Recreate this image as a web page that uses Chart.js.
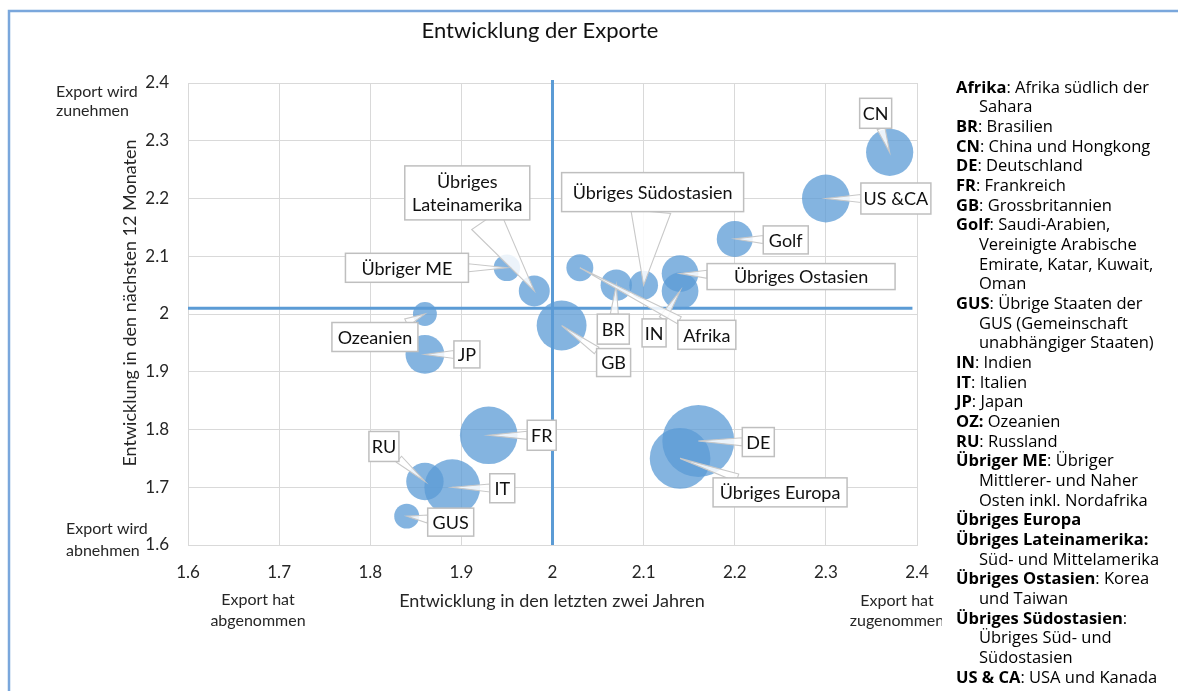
<!DOCTYPE html>
<html>
<head>
<meta charset="utf-8">
<script src="https://cdn.jsdelivr.net/npm/chart.js@4/dist/chart.umd.min.js"></script>
<style>
  body { margin: 0; background: #fff; }
</style>
</head>
<body>
<canvas id="bubbleChart" width="1178" height="691"></canvas>
<script>
// Regionen und Werte
const regions = ['CN', 'US &CA', 'Golf', 'Übriges Ostasien', 'IN', 'Übriges Südostasien', 'BR', 'Afrika', 'GB',
    'Übriges Lateinamerika', 'Übriger ME', 'Ozeanien', 'JP', 'FR', 'RU', 'IT', 'GUS', 'DE', 'Übriges Europa'];
const lastTwoYears = [2.37, 2.30, 2.20, 2.14, 2.14, 2.10, 2.07, 2.03, 2.01, 1.98, 1.95, 1.86, 1.86, 1.93, 1.86, 1.89, 1.84, 2.16, 2.14];
const nextTwelveMonths = [2.28, 2.20, 2.13, 2.07, 2.04, 2.05, 2.05, 2.08, 1.98, 2.04, 2.08, 2.00, 1.93, 1.79, 1.71, 1.70, 1.65, 1.78, 1.75];
const exportVolume = [43, 44, 25, 26, 26, 16, 19, 14, 48, 18.5, 13.6, 11, 29, 64, 27, 60, 12, 100, 71];
const axisTicks = [1.6, 1.7, 1.8, 1.9, 2.0, 2.1, 2.2, 2.3, 2.4];
const crossX = 2.0;
const crossY = 2.01;

// Label-Kästchen: Versatz zum Blasenmittelpunkt, Größe, Breite der Spitze
const labelLayout = {
    'CN': { dx: -14, dy: -39, w: 32, h: 30 },
    'US &CA': { dx: 70, dy: 0, w: 70, h: 31 },
    'Golf': { dx: 51, dy: 1, w: 45, h: 28 },
    'Übriges Ostasien': { dx: 121, dy: 3, w: 188, h: 26 },
    'IN': { dx: -26, dy: 42, w: 24, h: 28 },
    'Übriges Südostasien': { dx: 9, dy: -93, w: 182, h: 39, base: 40 },
    'BR': { dx: -3, dy: 44, w: 32, h: 30 },
    'Afrika': { dx: 127, dy: 67, w: 58, h: 29 },
    'GB': { dx: 52, dy: 37, w: 34, h: 28 },
    'Übriges Lateinamerika': { dx: -67, dy: -98, w: 125, h: 54, base: 34, lines: ['Übriges', 'Lateinamerika'] },
    'Übriger ME': { dx: -100, dy: 0, w: 123, h: 29 },
    'Ozeanien': { dx: -50, dy: 23, w: 86, h: 29 },
    'JP': { dx: 42, dy: 0, w: 26, h: 27 },
    'FR': { dx: 53, dy: 0, w: 29, h: 30 },
    'RU': { dx: -41, dy: -35, w: 30, h: 30 },
    'IT': { dx: 50, dy: 1, w: 25, h: 29 },
    'GUS': { dx: 44, dy: 6, w: 46, h: 28 },
    'DE': { dx: 60, dy: 1, w: 32, h: 29 },
    'Übriges Europa': { dx: 100, dy: 34, w: 134, h: 29 }
};

const legendEntries = [
    ['Afrika', ': Afrika südlich der', ['Sahara']],
    ['BR', ': Brasilien'],
    ['CN', ': China und Hongkong'],
    ['DE', ': Deutschland'],
    ['FR', ': Frankreich'],
    ['GB', ': Grossbritannien'],
    ['Golf', ': Saudi-Arabien,', ['Vereinigte Arabische', 'Emirate, Katar, Kuwait,', 'Oman']],
    ['GUS', ': Übrige Staaten der', ['GUS (Gemeinschaft', 'unabhängiger Staaten)']],
    ['IN', ': Indien'],
    ['IT', ': Italien'],
    ['JP', ': Japan'],
    ['OZ:', ' Ozeanien'],
    ['RU', ': Russland'],
    ['Übriger ME', ': Übriger', ['Mittlerer- und Naher', 'Osten inkl. Nordafrika']],
    ['Übriges Europa', ''],
    ['Übriges Lateinamerika:', '', ['Süd- und Mittelamerika']],
    ['Übriges Ostasien', ': Korea', ['und Taiwan']],
    ['Übriges Südostasien', ':', ['Übriges Süd- und', 'Südostasien']],
    ['US & CA', ': USA und Kanada']
];

const chartFont = 'Lato, "Open Sans", sans-serif';
const legendFont = '"Open Sans", sans-serif';
const blue = '#5b9bd5';

const bubbles = regions.map((name, i) => ({
    x: lastTwoYears[i],
    y: nextTwelveMonths[i],
    r: 36 * Math.sqrt(exportVolume[i] / 100),
    name: name
}));

const calloutPlugin = {
    id: 'callouts',
    afterDatasetsDraw(chart) {
        const ctx = chart.ctx;
        const meta = chart.getDatasetMeta(0);
        ctx.save();
        meta.data.forEach((pt, i) => {
            const name = regions[i];
            const L = labelLayout[name];
            const cx = pt.x + L.dx, cy = pt.y + L.dy;
            const hw = L.w / 2, hh = L.h / 2;
            const vx = pt.x - cx, vy = pt.y - cy;
            const len = Math.hypot(vx, vy);
            const t = Math.min(hw / (Math.abs(vx) || 1e-6), hh / (Math.abs(vy) || 1e-6));
            if (t < 1) {
                const ex = cx + vx * t, ey = cy + vy * t;
                const px = -vy / len, py = vx / len;
                const b = (L.base || 8) / 2;
                ctx.beginPath();
                ctx.moveTo(ex + px * b, ey + py * b);
                ctx.lineTo(pt.x, pt.y);
                ctx.lineTo(ex - px * b, ey - py * b);
                ctx.closePath();
                ctx.fillStyle = 'rgba(255,255,255,0.85)';
                ctx.fill();
                ctx.strokeStyle = '#c8c8c8';
                ctx.lineWidth = 1.1;
                ctx.stroke();
            }
            ctx.fillStyle = '#fff';
            ctx.fillRect(cx - hw, cy - hh, L.w, L.h);
            ctx.strokeStyle = '#bfbfbf';
            ctx.lineWidth = 1.5;
            ctx.strokeRect(cx - hw, cy - hh, L.w, L.h);
            const lines = L.lines || [name];
            ctx.fillStyle = '#111';
            ctx.font = '18px ' + chartFont;
            ctx.textAlign = 'center';
            ctx.textBaseline = 'middle';
            const lh = 23;
            lines.forEach((s, k) => {
                ctx.fillText(s, cx, cy + (k - (lines.length - 1) / 2) * lh + 1);
            });
        });
        ctx.restore();
    }
};

const decorPlugin = {
    id: 'decor',
    afterDraw(chart) {
        const ctx = chart.ctx;
        ctx.save();
        // Rahmen
        ctx.strokeStyle = '#7aa7dc';
        ctx.lineWidth = 2.5;
        ctx.strokeRect(9, 11, 1400, 900);

        ctx.fillStyle = '#111';
        ctx.textBaseline = 'middle';
        ctx.textAlign = 'center';
        ctx.font = '22px ' + chartFont;
        ctx.fillText('Entwicklung der Exporte', 540, 31);

        ctx.fillStyle = '#262626';
        ctx.font = '18px ' + chartFont;
        ctx.fillText('Entwicklung in den letzten zwei Jahren', 552, 601);
        ctx.save();
        ctx.translate(130, 303);
        ctx.rotate(-Math.PI / 2);
        ctx.fillText('Entwicklung in den nächsten 12 Monaten', 0, 0);
        ctx.restore();

        // Eckhinweise
        ctx.font = '16px ' + chartFont;
        ctx.textAlign = 'left';
        ctx.fillText('Export wird', 56, 92);
        ctx.fillText('zunehmen', 56, 111);
        ctx.fillText('Export wird', 66, 529);
        ctx.fillText('abnehmen', 66, 551);
        ctx.textAlign = 'center';
        ctx.fillText('Export hat', 258, 600);
        ctx.fillText('abgenommen', 258, 621);
        ctx.save();
        ctx.beginPath();
        ctx.rect(800, 580, 142, 60);
        ctx.clip();
        ctx.fillText('Export hat', 897, 601);
        ctx.fillText('zugenommen', 897, 621);
        ctx.restore();

        // Legende rechts
        ctx.textAlign = 'left';
        ctx.fillStyle = '#000';
        let y = 88;
        const step = 19.67;
        legendEntries.forEach(e => {
            ctx.font = 'bold 16.5px ' + legendFont;
            ctx.fillText(e[0], 956, y);
            const bw = ctx.measureText(e[0]).width;
            ctx.font = '16.5px ' + legendFont;
            ctx.fillText(e[1], 956 + bw, y);
            y += step;
            (e[2] || []).forEach(s => {
                ctx.fillText(s, 979, y);
                y += step;
            });
        });
        ctx.restore();
    }
};

const tickFmt = v => String(Number(v.toFixed(1)));

new Chart(document.getElementById('bubbleChart').getContext('2d'), {
    type: 'bubble',
    data: {
        datasets: [{
            label: 'Regionen',
            data: bubbles,
            backgroundColor: 'rgba(91,155,213,0.75)',
            borderWidth: 0,
            order: 1
        }, {
            type: 'line',
            label: 'vertikal',
            data: [{ x: crossX, y: axisTicks[0] }, { x: crossX, y: 2.405 }],
            borderColor: blue,
            borderWidth: 3,
            pointRadius: 0,
            clip: false,
            order: 2
        }, {
            type: 'line',
            label: 'horizontal',
            data: [{ x: axisTicks[0], y: crossY }, { x: 2.395, y: crossY }],
            borderColor: blue,
            borderWidth: 3,
            pointRadius: 0,
            clip: false,
            order: 2
        }]
    },
    options: {
        responsive: false,
        animation: false,
        layout: { padding: { left: 128, right: 261, top: 83, bottom: 106 } },
        plugins: {
            legend: { display: false },
            tooltip: { enabled: false }
        },
        scales: {
            x: {
                type: 'linear',
                min: axisTicks[0],
                max: axisTicks[axisTicks.length - 1],
                afterFit: s => { s.height = 40; },
                afterBuildTicks: s => { s.ticks = axisTicks.map(v => ({ value: v })); },
                ticks: { callback: tickFmt, padding: 17, color: '#262626', font: { family: chartFont, size: 17 }, maxRotation: 0 },
                grid: { color: '#d9d9d9', drawTicks: false },
                border: { color: '#d9d9d9' }
            },
            y: {
                type: 'linear',
                min: axisTicks[0],
                max: axisTicks[axisTicks.length - 1],
                afterFit: s => { s.width = 60; },
                afterBuildTicks: s => { s.ticks = axisTicks.map(v => ({ value: v })); },
                ticks: { callback: tickFmt, padding: 19, color: '#262626', font: { family: chartFont, size: 17 } },
                grid: { color: '#d9d9d9', drawTicks: false },
                border: { color: '#d9d9d9' }
            }
        }
    },
    plugins: [calloutPlugin, decorPlugin]
});
</script>
</body>
</html>
